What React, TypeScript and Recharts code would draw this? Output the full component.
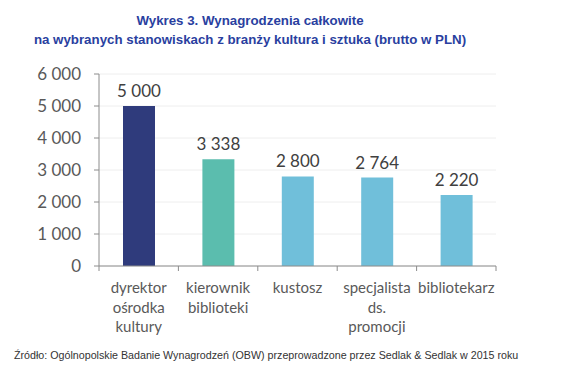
import React from "react";
import {
  BarChart,
  Bar,
  XAxis,
  YAxis,
  CartesianGrid,
  Cell,
  LabelList,
} from "recharts";

const categories = [
  "dyrektor\nośrodka\nkultury",
  "kierownik\nbiblioteki",
  "kustosz",
  "specjalista\nds.\npromocji",
  "bibliotekarz",
];
const salaries = [5000, 3338, 2800, 2764, 2220];
const barColors = ["#2f3b7c", "#5bbdae", "#70bfda", "#70bfda", "#70bfda"];
const yTicks = [0, 1000, 2000, 3000, 4000, 5000, 6000];

const data = categories.map((name, i) => ({
  name,
  value: salaries[i],
  fill: barColors[i],
}));

// non-breaking space as thousands separator, so recharts won't wrap it
const fmt = (v: number) =>
  v >= 1000 ? `${Math.floor(v / 1000)}\u00a0${String(v % 1000).padStart(3, "0")}` : String(v);

const BAND = 397 / categories.length;

function CategoryTick(props: any) {
  const { x, y, payload, index } = props;
  const lines = String(payload.value).split("\n");
  return (
    <g>
      <line x1={x - BAND / 2} x2={x - BAND / 2} y1={y - 8} y2={y - 3} stroke="#8c8c8c" />
      {index === categories.length - 1 && (
        <line x1={x + BAND / 2} x2={x + BAND / 2} y1={y - 8} y2={y - 3} stroke="#8c8c8c" />
      )}
      <text textAnchor="middle" fontSize={15} fill="#595959" fontFamily="Lato, 'Open Sans', sans-serif">
        {lines.map((l, i) => (
          <tspan key={i} x={x} y={y + 19 + i * 19.5}>
            {l}
          </tspan>
        ))}
      </text>
    </g>
  );
}

export default function App() {
  return (
    <div
      style={{
        position: "absolute",
        left: 0,
        top: 0,
        width: 568,
        height: 382,
        background: "#fff",
      }}
    >
      <div
        style={{
          position: "absolute",
          top: 11,
          left: 0,
          width: 500,
          textAlign: "center",
          fontFamily: "'Liberation Sans', Arial, sans-serif",
          fontWeight: "bold",
          fontSize: 13.3,
          lineHeight: "19px",
          color: "#2a3fa0",
        }}
      >
        Wykres 3. Wynagrodzenia całkowite
        <br />
        na wybranych stanowiskach z branży kultura i sztuka (brutto w PLN)
      </div>
      <BarChart
        width={568}
        height={382}
        data={data}
        margin={{ top: 74, right: 72, bottom: 46, left: 39 }}
        style={{ position: "absolute", left: 0, top: 0 }}
      >
        <CartesianGrid horizontal vertical={false} stroke="#eeeeee" />
        <XAxis
          dataKey="name"
          height={70}
          interval={0}
          stroke="#8c8c8c"
          tickLine={false}
          tick={<CategoryTick />}
        />
        <YAxis
          width={60}
          domain={[0, 6000]}
          ticks={yTicks}
          tickFormatter={fmt}
          stroke="#8c8c8c"
          tickSize={5}
          tickMargin={13}
          tick={{ fontSize: 17, fill: "#595959", fontFamily: "Lato, 'Open Sans', sans-serif" }}
        />
        <Bar dataKey="value" barSize={32} isAnimationActive={false}>
          {data.map((d, i) => (
            <Cell key={i} fill={d.fill} />
          ))}
          <LabelList
            dataKey="value"
            position="top"
            offset={9}
            formatter={(v: any) => fmt(Number(v))}
            style={{ fontSize: 17, fill: "#404040", fontFamily: "Lato, 'Open Sans', sans-serif" }}
          />
        </Bar>
      </BarChart>
      <div
        style={{
          position: "absolute",
          top: 349,
          left: 14,
          fontFamily: "'Liberation Sans', Arial, sans-serif",
          fontSize: 10.7,
          color: "#333",
          whiteSpace: "nowrap",
        }}
      >
        Źródło: Ogólnopolskie Badanie Wynagrodzeń (OBW) przeprowadzone przez Sedlak &amp; Sedlak w 2015 roku
      </div>
    </div>
  );
}
